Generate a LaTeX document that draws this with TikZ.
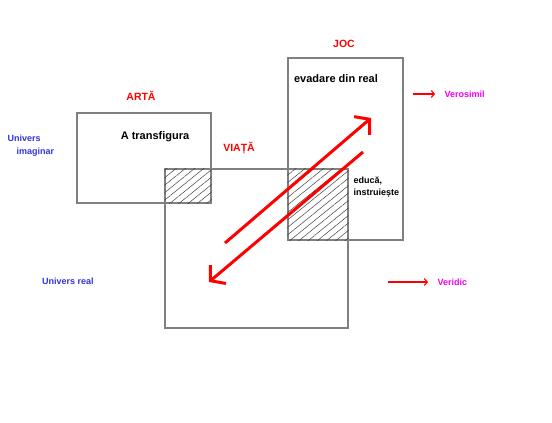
\documentclass[tikz,border=0pt]{standalone}
\usepackage{fontspec}
\setmainfont{Liberation Sans}
\usetikzlibrary{arrows.meta,patterns.meta}
\definecolor{labelred}{rgb}{1.0, 0.0, 0.0}
\definecolor{universe}{rgb}{0.2, 0.2, 0.85}
\definecolor{verdict}{rgb}{0.95, 0.0, 0.95}
\definecolor{frame}{rgb}{0.5, 0.5, 0.5}

\tikzset{
  box/.style={draw=frame,line width=1.1pt,minimum width=#1},
  hatch/.style={pattern={Lines[angle=39,distance=5.8pt,line width=0.5pt]},pattern color=black!75},
  bigarrow/.style={draw=labelred,line width=3pt,-{Straight Barb[length=10pt,width=24pt,line width=3pt]}},
  smallarrow/.style={draw=labelred,line width=1.1pt,shorten >=6pt,-{Straight Barb[length=3pt,width=7pt]}},
  redlabel/.style={text=labelred,font=\fontsize{10.5}{12}\bfseries},
  bluelabel/.style={text=universe,font=\fontsize{9}{13}\bfseries},
  pinklabel/.style={text=verdict,font=\fontsize{9}{11}\bfseries,anchor=west},
  bigtext/.style={font=\fontsize{11}{13}\bfseries}
}

\begin{document}
\begin{tikzpicture}[x=1pt,y=-1pt]
  \useasboundingbox (0,0) rectangle (552,423);
  % the three worlds
  \node[box=134pt,minimum height=90pt] (arta) at (144,158) {};
  \node[box=183pt,minimum height=159pt] (viata) at (256.5,248.5) {};
  \node[box=115pt,minimum height=182pt] (joc) at (345.5,149) {};
  \fill[hatch] (viata.north west) rectangle (arta.south east);
  \fill[hatch] (joc.south west) rectangle (viata.north east);
  % titles
  \node[redlabel] (tarta) at (141,96) {ARTĂ};
  \node[redlabel] (tviata) at (239,148) {VIAȚĂ};
  \node[redlabel] (tjoc) at (344,44) {JOC};
  \node[bigtext] (transf) at (155,137) {A transfigura};
  \node[bigtext] (evad) at (336,79) {evadare din real};
  \node[font=\fontsize{9}{12}\bfseries,align=left,anchor=west] (educ) at (350,187) {educă,\\instruiește};
  \node[bluelabel,align=left,anchor=west] (imag) at (4,146) {Univers\\\hspace*{9pt}imaginar};
  \node[bluelabel] (real) at (68,281) {Univers real};
  \node[pinklabel] (vero) at (441,94) {Verosimil};
  \node[pinklabel] (veri) at (434,282) {Veridic};
  % arrows
  \coordinate (up1) at (225,243);
  \coordinate (up2) at (371,118);
  \coordinate (dn1) at (363,152);
  \coordinate (dn2) at (209,282);
  \draw[bigarrow] (up1) -- (up2);
  \draw[bigarrow] (dn1) -- (dn2);
  \coordinate (v1) at (413,94);
  \coordinate (v2) at (388,282);
  \draw[smallarrow] (v1) -- (vero.west);
  \draw[smallarrow] (v2) -- (veri.west);
\end{tikzpicture}
\end{document}
